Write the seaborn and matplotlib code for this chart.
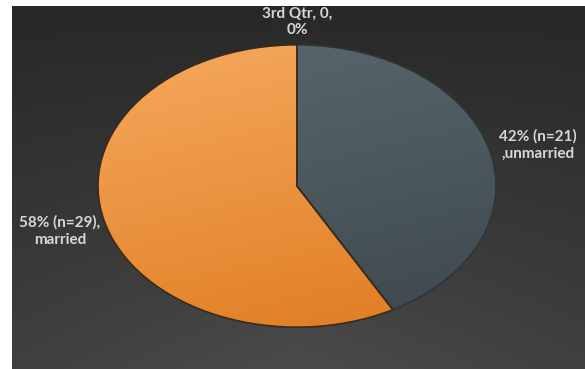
import numpy as np
import matplotlib
matplotlib.use("Agg")
import matplotlib.pyplot as plt
from matplotlib.colors import LinearSegmentedColormap
import seaborn as sns

# ---- data ----
categories = ["unmarried", "married", "3rd Qtr"]
counts = [21, 29, 0]
label_texts = ["42% (n=21)\n,unmarried", "58% (n=29),\nmarried", "3rd Qtr, 0,\n0%"]

sns.set_theme(style="white")
plt.rcParams['font.family'] = ['Lato', 'DejaVu Sans']

W, H = 585, 369
fig = plt.figure(figsize=(W / 100, H / 100), dpi=100)
fig.patch.set_facecolor("white")

# background panel with gradient
bg = fig.add_axes([12 / W, 0, (W - 12) / W, (H - 6) / H])
bg.set_axis_off()
yy, xx = np.mgrid[0:1:200j, 0:1:300j]
val = 0.6 * yy + 0.4 * np.clip(1 - np.abs(xx - 0.5) * 1.6, 0, 1) * yy
bg_cmap = LinearSegmentedColormap.from_list("bg", ["#282828", "#4b4b4b"])
bg.imshow(val, cmap=bg_cmap, aspect="auto", extent=[0, 1, 0, 1], origin="upper")
bg.set_xlim(0, 1)
bg.set_ylim(0, 1)

# pie axes (ellipse bounding box)
cx, cy, a, b = 297, 186, 203, 144
ax = fig.add_axes([(cx - a) / W, (H - cy - b) / H, 2 * a / W, 2 * b / H])
ax.set_axis_off()
ax.patch.set_alpha(0)

base_colors = ["#4d5b61", "#ef8f35", "#808080"]
wedges, _ = ax.pie(counts, colors=base_colors, startangle=90, counterclock=False,
                   radius=1.0, center=(0, 0), normalize=True,
                   wedgeprops=dict(edgecolor="#3a2a1a", linewidth=1.2))
ax.set_xlim(-1.02, 1.02)
ax.set_ylim(-1.02, 1.02)
ax.set_aspect("auto")

# gradient fills clipped to wedges
grad_specs = {
    0: ("#5b6a70", "#3c474d"),
    1: ("#f6aa60", "#df7a1e"),
}
for i, (c_top, c_bot) in grad_specs.items():
    cm = LinearSegmentedColormap.from_list(f"g{i}", [c_top, c_bot])
    gy, gx = np.mgrid[0:1:200j, 0:1:200j]
    g = 0.75 * gy + 0.25 * gx
    im = ax.imshow(g, cmap=cm, extent=[-1.05, 1.05, -1.05, 1.05], origin="upper",
                   aspect="auto", zorder=wedges[i].get_zorder() + 0.1)
    im.set_clip_path(wedges[i])
    wedges[i].set_zorder(wedges[i].get_zorder() + 0.2)
    wedges[i].set_facecolor("none")
wedges[0].set_edgecolor("#2e3538")

# labels
txt_kw = dict(color="#d8d8d8", fontsize=11, fontweight="bold", linespacing=1.25)
fig.text(538 / W, 1 - 145 / H, label_texts[0], ha="center", va="center", **txt_kw)
fig.text(60 / W, 1 - 231 / H, label_texts[1], ha="center", va="center", **txt_kw)
fig.text(297 / W, 1 - 22 / H, label_texts[2], ha="center", va="center", **txt_kw)

fig.savefig("out.png", dpi=100, facecolor=fig.get_facecolor())
